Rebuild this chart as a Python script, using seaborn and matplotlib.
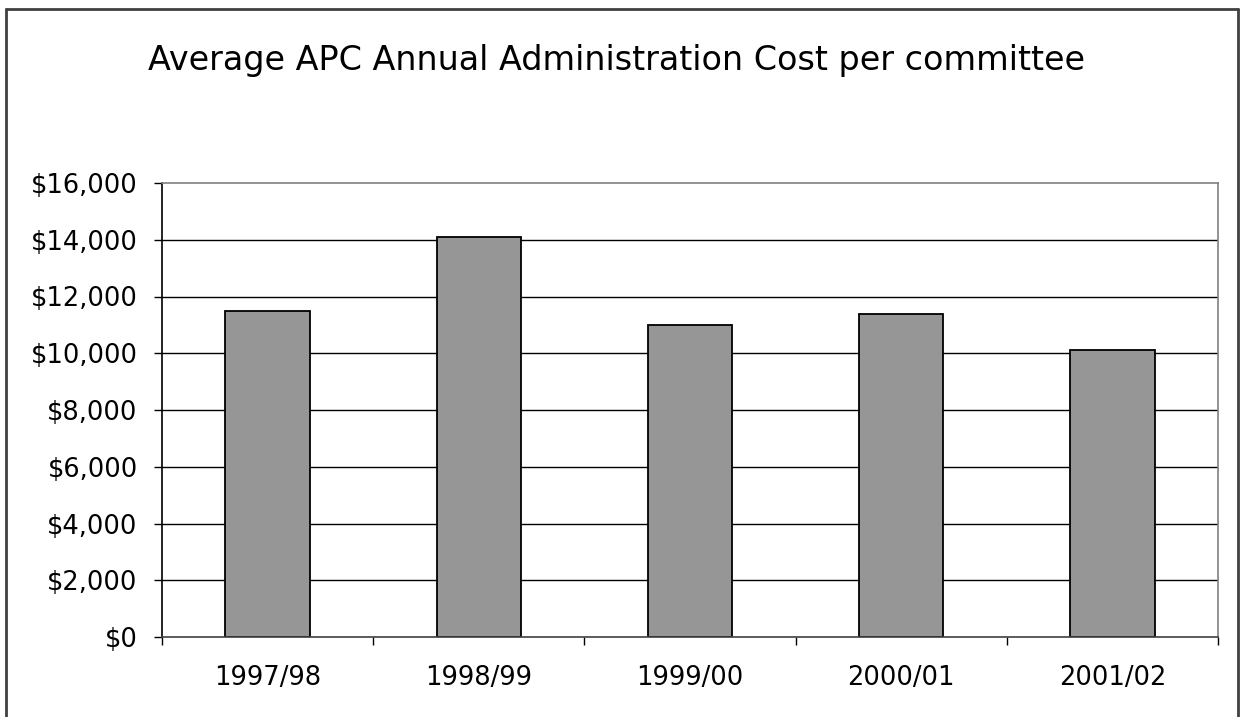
import numpy as np
import pandas as pd
import seaborn as sns
import matplotlib.pyplot as plt
from matplotlib.lines import Line2D
from matplotlib.ticker import FuncFormatter, FixedLocator

# data
years = ["1997/98", "1998/99", "1999/00", "2000/01", "2001/02"]
costs = [11500, 14100, 11000, 11400, 10100]
y_ticks = [0, 2000, 4000, 6000, 8000, 10000, 12000, 14000, 16000]

df = pd.DataFrame({"year": years, "cost": costs})

sns.set_style("white")
plt.rcParams["font.family"] = ["DejaVu Sans"]
plt.rcParams["text.color"] = "black"
plt.rcParams["xtick.color"] = "black"
plt.rcParams["ytick.color"] = "black"

W, H = 1245, 717
fig = plt.figure(figsize=(W / 100, H / 100), dpi=100)
ax = fig.add_axes([162 / W, 1 - 637 / H, (1218 - 162) / W, (637 - 183) / H])

# gridlines behind bars
for v in y_ticks[1:-1]:
    ax.axhline(v, color="black", lw=1.0, zorder=0)

sns.barplot(data=df, x="year", y="cost", color="#969696", width=0.4,
            edgecolor="black", linewidth=1.3, saturation=1, ax=ax, zorder=2)

ax.set_xlim(-0.5, len(years) - 0.5)
ax.set_ylim(0, 16000)
ax.set_xlabel("")
ax.set_ylabel("")

ax.yaxis.set_major_locator(FixedLocator(y_ticks))
ax.yaxis.set_major_formatter(FuncFormatter(lambda v, p: f"${v:,.0f}"))

# x ticks at category boundaries, labels at centres
ax.xaxis.set_major_locator(FixedLocator(np.arange(len(years) + 1) - 0.5))
ax.xaxis.set_minor_locator(FixedLocator(np.arange(len(years))))
ax.set_xticklabels([""] * (len(years) + 1))
ax.set_xticklabels(years, minor=True)
ax.tick_params(axis="x", which="major", direction="out", length=6, width=1, color="black")
ax.tick_params(axis="x", which="minor", length=0, pad=20, labelsize=18.5)
ax.tick_params(axis="y", direction="out", length=5.5, width=1, color="black", pad=12, labelsize=18.5)
ax.tick_params(bottom=True, left=True, which="both")
ax.tick_params(axis="y", which="minor", left=False)

ax.spines["left"].set_color("black")
ax.spines["left"].set_linewidth(1.2)
ax.spines["bottom"].set_color("#404040")
ax.spines["bottom"].set_linewidth(1.2)
for s in ["top", "right"]:
    ax.spines[s].set_color("#808080")
    ax.spines[s].set_linewidth(1.2)

fig.text(616 / W, 1 - 70 / H, "Average APC Annual Administration Cost per committee",
         ha="center", va="baseline", fontsize=24)

# outer chart border (bottom edge falls outside the image)
bc = "#404040"
fig.add_artist(Line2D([6 / W, 6 / W], [-0.05, 1 - 9 / H], transform=fig.transFigure, color=bc, lw=2))
fig.add_artist(Line2D([6 / W, 1238 / W], [1 - 9 / H, 1 - 9 / H], transform=fig.transFigure, color=bc, lw=2))
fig.add_artist(Line2D([1238 / W, 1238 / W], [-0.05, 1 - 9 / H], transform=fig.transFigure, color=bc, lw=2))

fig.savefig("out.png", dpi=100)
